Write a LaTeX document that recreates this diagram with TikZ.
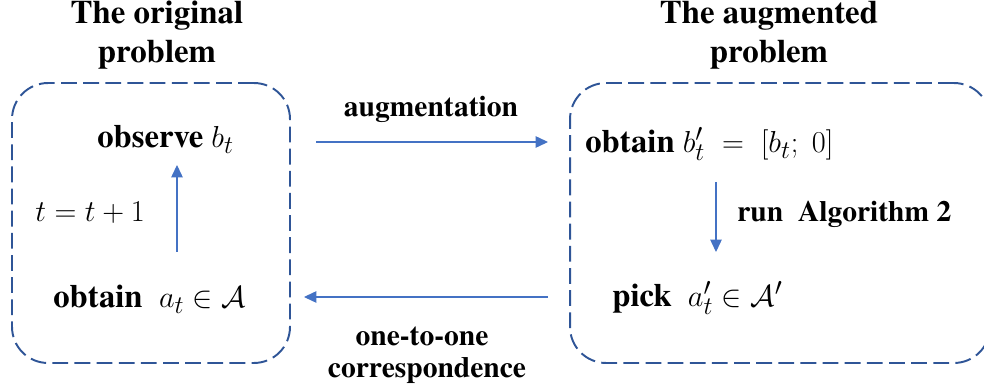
\documentclass[tikz,border=0pt]{standalone}
\usepackage{fontspec}
\setmainfont{texgyretermes}[Extension=.otf, UprightFont=*-regular, BoldFont=*-bold, ItalicFont=*-italic, BoldItalicFont=*-bolditalic]
\usetikzlibrary{arrows.meta}
\definecolor{boxblue}{RGB}{47,85,151}
\definecolor{arrblue}{RGB}{68,114,196}
\newcommand{\mth}[1]{{\fontsize{19}{23}\selectfont$#1$}}
\tikzset{
  probbox/.style={draw=boxblue, line width=1.1pt, dash pattern=on 9pt off 3.6pt, rounded corners=0.72cm, inner sep=0pt},
  conn/.style={draw=arrblue, line width=0.6pt, -{Triangle[length=7pt,width=6.5pt]}},
  lbl/.style={font=\fontsize{18.6}{22}\selectfont\bfseries, inner sep=0pt, anchor=base west},
  slbl/.style={font=\fontsize{16.8}{20}\selectfont\bfseries, inner sep=0pt, anchor=base west},
  ttl/.style={font=\fontsize{18.7}{22}\selectfont\bfseries, inner sep=0pt, anchor=base},
  mid/.style={font=\fontsize{16.8}{20}\selectfont\bfseries, inner sep=0pt, anchor=base},
}
\begin{document}
\begin{tikzpicture}[x=0.02cm,y=-0.02cm]
\useasboundingbox (0,0) rectangle (984,391);
\clip (0,0) rectangle (984,391);
% boxes
\node[probbox, minimum width=5.56cm, minimum height=5.6cm] (L) at (151,223) {};
\node[probbox, minimum width=8.4cm, minimum height=5.6cm] (R) at (780,223) {};
% titles
\node[ttl] (tl1) at (157,24) {The original};
\node[ttl] (tl2) at (157,63) {problem};
\node[ttl] (tr1) at (769,24) {The augmented};
\node[ttl] (tr2) at (769,63) {problem};
% left texts
\node[lbl] (obs) at (97,148) {observe \mth{b_t}};
\node[lbl] (inc) at (35,222) {\mth{t=t+1}};
\node[lbl] (obt) at (53,308) {obtain\ \ \mth{a_t\in\mathcal{A}}};
% right texts
\node[lbl] (obr) at (585,153) {obtain \mth{b_t'\;=\;[b_t;\;0]}};
\node[slbl] (run) at (737,222) {run\ \ Algorithm 2};
\node[lbl] (pick) at (612,307) {pick\ \ \mth{a_t'\in\mathcal{A}'}};
% middle labels
\node[mid] (aug) at (431,117) {augmentation};
\node[mid] (one1) at (422,346) {one-to-one};
\node[mid] (one2) at (427,378) {correspondence};
% arrow coordinates
\coordinate (upS) at (177,252);
\coordinate (upE) at (177,165);
\coordinate (dnS) at (716,182);
\coordinate (dnE) at (716,252);
\coordinate (topS) at (316,142);
\coordinate (topE) at (548,142);
\coordinate (botS) at (548,297);
\coordinate (botE) at (304,297);
\draw[conn] (upS) -- (upE);
\draw[conn] (dnS) -- (dnE);
\draw[conn] (topS) -- (topE);
\draw[conn] (botS) -- (botE);
\end{tikzpicture}
\end{document}
